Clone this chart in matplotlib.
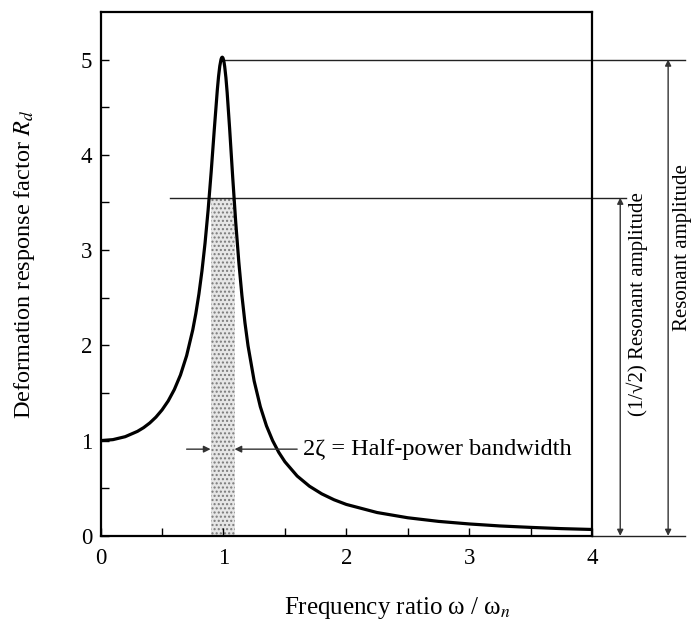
import matplotlib.pyplot as plt

plt.rcParams['font.family'] = ['Liberation Serif', 'DejaVu Serif']
plt.rcParams['mathtext.fontset'] = 'stix'

# frequency ratio and deformation response factor
ratio = [0.0, 0.1, 0.2, 0.3, 0.35, 0.4, 0.45, 0.5, 0.55, 0.6, 0.65, 0.7, 0.75,
         0.775, 0.8, 0.825, 0.85, 0.875, 0.9, 0.925, 0.95, 0.96, 0.97, 0.98,
         0.985, 0.99, 0.995, 1.0, 1.005, 1.01, 1.02, 1.03, 1.05, 1.075, 1.1,
         1.125, 1.15, 1.175, 1.2, 1.25, 1.3, 1.35, 1.4, 1.45, 1.5, 1.6, 1.7,
         1.8, 1.9, 2.0, 2.25, 2.5, 2.75, 3.0, 3.25, 3.5, 3.75, 4.0]
rd = [1.0, 1.010, 1.041, 1.097, 1.136, 1.185, 1.246, 1.322, 1.416, 1.536,
      1.689, 1.891, 2.162, 2.334, 2.538, 2.782, 3.073, 3.419, 3.821, 4.261,
      4.682, 4.822, 4.931, 5.001, 5.019, 5.025, 5.019, 5.0, 4.969, 4.926,
      4.809, 4.654, 4.279, 3.768, 3.288, 2.873, 2.525, 2.236, 1.995, 1.625,
      1.356, 1.155, 1.0, 0.877, 0.778, 0.628, 0.521, 0.441, 0.379, 0.330,
      0.245, 0.190, 0.152, 0.125, 0.104, 0.089, 0.076, 0.067]

peak = 5.0
half_power = 3.55
band = [0.895, 1.09]

xticks = [0, 1, 2, 3, 4]
yticks = [0, 1, 2, 3, 4, 5]

fig = plt.figure(figsize=(6.94, 6.26), dpi=100)
ax = fig.add_axes([0.145, 0.144, 0.708, 0.837])

# half-power band shading
ax.fill_between(band, 0, half_power, facecolor='#e6e6e6', edgecolor='#7a7a7a',
                hatch='....', linewidth=0, zorder=1)

ax.plot(ratio, rd, color='black', lw=2.3, zorder=3)

# reference lines
ax.plot([1.0, 4.76], [peak, peak], color='#222222', lw=1.0, clip_on=False)
ax.plot([0.565, 4.28], [half_power, half_power], color='#222222', lw=1.0, clip_on=False)
ax.plot([4.0, 4.76], [0, 0], color='#222222', lw=1.0, clip_on=False)

# vertical amplitude arrows
for xa, ytop in [(4.23, half_power), (4.62, peak)]:
    ax.annotate('', xy=(xa, 0), xytext=(xa, ytop), annotation_clip=False,
                arrowprops=dict(arrowstyle='<|-|>', color='#333333', lw=1.0,
                                mutation_scale=9, shrinkA=0, shrinkB=0))

# half-power bandwidth arrows
ax.annotate('', xy=(band[0], 0.91), xytext=(0.70, 0.91),
            arrowprops=dict(arrowstyle='-|>', color='#333333', lw=1.0,
                            mutation_scale=10, shrinkA=0, shrinkB=0))
ax.annotate('', xy=(band[1], 0.91), xytext=(1.60, 0.91),
            arrowprops=dict(arrowstyle='-|>', color='#333333', lw=1.0,
                            mutation_scale=10, shrinkA=0, shrinkB=0))
ax.text(1.65, 0.91, '2ζ = Half-power bandwidth', fontsize=17.5, va='center', ha='left')

ax.text(4.37, 2.43, '(1/√2) Resonant amplitude', fontsize=15, rotation=90,
        va='center', ha='center', clip_on=False)
ax.text(4.74, 3.03, 'Resonant amplitude', fontsize=15, rotation=90,
        va='center', ha='center', clip_on=False)

ax.set_xlim(0, 4)
ax.set_ylim(0, 5.5)
ax.set_xticks(xticks)
ax.set_yticks(yticks)
ax.set_xticks([0.5, 1.5, 2.5, 3.5], minor=True)
ax.set_yticks([0.5, 1.5, 2.5, 3.5, 4.5], minor=True)
ax.tick_params(which='both', direction='in', length=6, width=1.0, labelsize=16.5)
ax.tick_params(axis='x', pad=9)
ax.tick_params(axis='y', pad=6)
for s in ax.spines.values():
    s.set_linewidth(1.6)

fig.text(0.572, 0.028, 'Frequency ratio ω / ω$_n$', fontsize=18, ha='center', va='center')
fig.text(0.036, 0.577, 'Deformation response factor $R_d$', fontsize=17.5,
         rotation=90, ha='center', va='center')

fig.savefig('out.png', dpi=100)
